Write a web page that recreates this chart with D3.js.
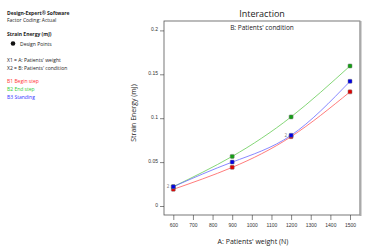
<!DOCTYPE html>
<html>
<head>
<meta charset="utf-8">
<script src="https://cdn.jsdelivr.net/npm/d3@7"></script>
<style>
  body { margin: 0; background: #fff; }
  svg { display: block; font-family: "Open Sans", "Liberation Sans", sans-serif; }
</style>
</head>
<body>
<svg id="chart"></svg>
<script>
// data
const weights = [600, 900, 1200, 1500];
const beginStep = [0.019, 0.044, 0.079, 0.130];
const endStep = [0.022, 0.0565, 0.1015, 0.1595];
const standing = [0.022, 0.050, 0.0805, 0.142];
const xTicks = [600, 700, 800, 900, 1000, 1100, 1200, 1300, 1400, 1500];
const yTicks = [0, 0.05, 0.1, 0.15, 0.2];

const series = [
  { name: "B1 Begin step", vals: beginStep, line: "#ff5a5a", dot: "#e00000", txt: "#ff3333" },
  { name: "B2 End step", vals: endStep, line: "#66cc55", dot: "#13a013", txt: "#33cc33" },
  { name: "B3 Standing", vals: standing, line: "#6a6aff", dot: "#0000e6", txt: "#3333ff" }
];

const svgW = 366, svgH = 249;
const box = { left: 164, right: 360, top: 21, bottom: 215 };

const root = d3.select("#chart").attr("width", svgW).attr("height", svgH);

// left info panel
const info = root.append("g").style("font-size", "5px").style("fill", "#222");
info.append("text").attr("x", 7).attr("y", 15).style("font-weight", "700").text("Design-Expert® Software");
info.append("text").attr("x", 7).attr("y", 22).text("Factor Coding: Actual");
info.append("text").attr("x", 7).attr("y", 36).style("font-weight", "700").text("Strain Energy (mJ)");
info.append("circle").attr("cx", 13).attr("cy", 43.5).attr("r", 2.3).attr("fill", "#111");
info.append("text").attr("x", 20).attr("y", 45.5).text("Design Points");
info.append("text").attr("x", 7).attr("y", 62).text("X1 = A: Patients' weight");
info.append("text").attr("x", 7).attr("y", 70).text("X2 = B: Patients' condition");
series.forEach((s, i) => {
  info.append("text").attr("x", 7).attr("y", 83 + i * 7.8).style("fill", s.txt).text(s.name);
});

const x = d3.scaleLinear().domain([600, 1500]).range([173.3, 350]);
const y = d3.scaleLinear().domain([0, 0.2]).range([206, 30.4]);

// frame
root.append("rect")
  .attr("x", box.left).attr("y", box.top)
  .attr("width", box.right - box.left).attr("height", box.bottom - box.top)
  .attr("fill", "none").attr("stroke", "#555").attr("stroke-width", 0.8);
root.append("line")
  .attr("x1", box.right + 0.5).attr("x2", box.right + 0.5)
  .attr("y1", box.top).attr("y2", box.bottom + 1)
  .attr("stroke", "#aaa").attr("stroke-width", 2);

// axes
const xAxis = root.append("g")
  .attr("transform", `translate(0,${box.bottom})`)
  .call(d3.axisBottom(x).tickValues(xTicks).tickSize(5).tickPadding(3).tickFormat(d3.format("d")));
xAxis.select(".domain").remove();
xAxis.selectAll("text").style("font-size", "5px").attr("fill", "#333");
xAxis.selectAll("line").attr("stroke", "#333").attr("stroke-width", 0.6);

const yAxis = root.append("g")
  .attr("transform", `translate(${box.left},0)`)
  .call(d3.axisLeft(y).tickValues(yTicks).tickSize(4).tickPadding(2).tickFormat(d => d === 0 ? "0" : String(d)));
yAxis.select(".domain").remove();
yAxis.selectAll("text").style("font-size", "5px").attr("fill", "#333").attr("dy", "0.1em");
yAxis.selectAll("line").attr("stroke", "#333").attr("stroke-width", 0.6);

// titles
root.append("text").attr("x", 262).attr("y", 17).attr("text-anchor", "middle")
  .style("font-size", "9px").style("fill", "#222").text("Interaction");
root.append("text").attr("x", 262).attr("y", 30).attr("text-anchor", "middle")
  .style("font-size", "6.5px").style("fill", "#222").text("B: Patients'  condition");
root.append("text").attr("x", 253).attr("y", 244).attr("text-anchor", "middle")
  .style("font-size", "7px").style("fill", "#222").text("A: Patients'  weight (N)");
root.append("text")
  .attr("transform", `translate(136,113) rotate(-90)`)
  .attr("text-anchor", "middle")
  .style("font-size", "7px").style("fill", "#222").text("Strain Energy (mJ)");

// lines
const line = d3.line().x(d => x(d[0])).y(d => y(d[1])).curve(d3.curveNatural);
series.forEach(s => {
  root.append("path")
    .datum(weights.map((w, i) => [w, s.vals[i]]))
    .attr("d", line)
    .attr("fill", "none")
    .attr("stroke", s.line)
    .attr("stroke-width", 0.8);
});

// design points
series.forEach(s => {
  root.selectAll(null)
    .data(weights.map((w, i) => [w, s.vals[i]]))
    .enter()
    .append("rect")
    .attr("x", d => x(d[0]) - 2)
    .attr("y", d => y(d[1]) - 2)
    .attr("width", 4).attr("height", 4)
    .attr("rx", 0.8)
    .attr("fill", s.dot)
    .attr("stroke", "#777")
    .attr("stroke-width", 0.5);
});

// replicate counts
root.append("text").attr("x", x(600) - 4).attr("y", y(0.022) + 1.5).attr("text-anchor", "end")
  .style("font-size", "4.5px").style("fill", "#777").text("2");
root.append("text").attr("x", x(1200) - 4).attr("y", y(0.08) + 1.5).attr("text-anchor", "end")
  .style("font-size", "4.5px").style("fill", "#777").text("2");
</script>
</body>
</html>
